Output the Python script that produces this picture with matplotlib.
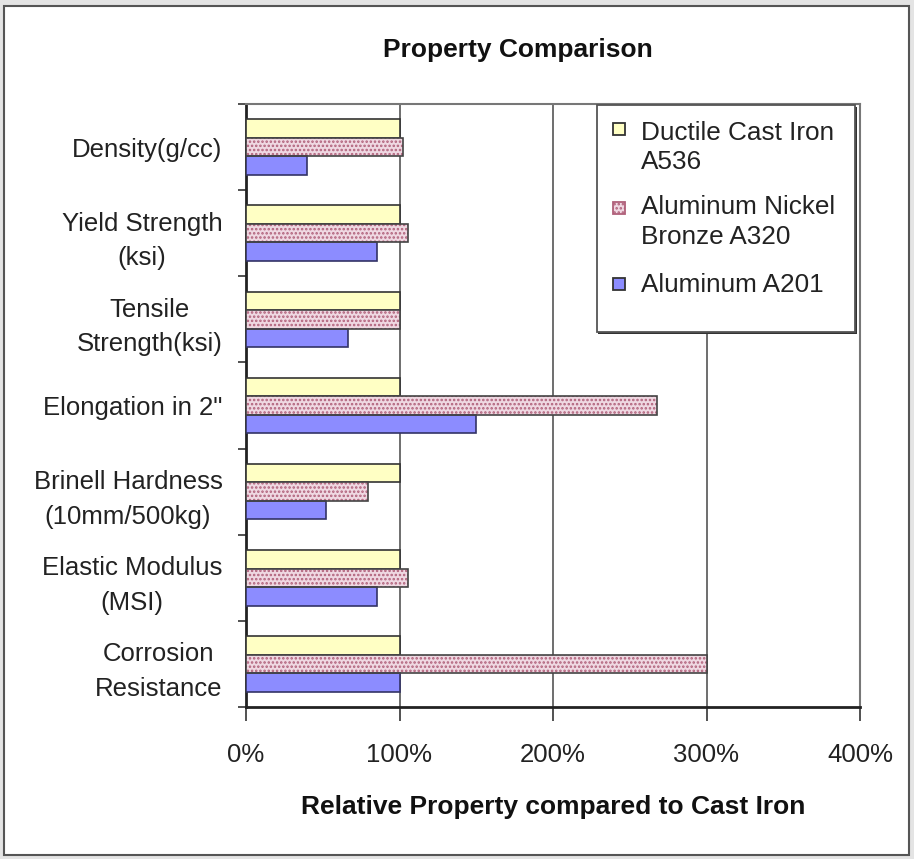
import matplotlib
matplotlib.use("Agg")
import matplotlib.pyplot as plt
import numpy as np
from matplotlib.patches import Rectangle

plt.rcParams['font.family'] = ['Liberation Sans', 'DejaVu Sans']
plt.rcParams['hatch.linewidth'] = 1.2

categories = ["Density(g/cc)", "Yield Strength\n(ksi)", "Tensile\nStrength(ksi)",
              "Elongation in 2\"", "Brinell Hardness\n(10mm/500kg)",
              "Elastic Modulus\n(MSI)", "Corrosion\nResistance"]
series_names = ["Ductile Cast Iron\nA536", "Aluminum Nickel\nBronze A320", "Aluminum A201"]
ductile = [100, 100, 100, 100, 100, 100, 100]
bronze = [102.5, 105.4, 100, 267.5, 79.3, 105.4, 300]
aluminum = [39.5, 85.4, 66.7, 150, 52.2, 85.4, 100]
xticks = [0, 100, 200, 300, 400]
xticklabels = ["0%", "100%", "200%", "300%", "400%"]

W, H = 914, 859
fig = plt.figure(figsize=(W / 100, H / 100), dpi=100)
fig.patch.set_facecolor('#e4e4e4')
fig.add_artist(Rectangle((4 / W, 4 / H), (W - 9) / W, (H - 10) / H, transform=fig.transFigure,
                         facecolor='white', edgecolor='#555555', linewidth=1.5, zorder=0))

ax = fig.add_axes([246 / W, 1 - 707 / H, (860 - 246) / W, (707 - 104) / H])
ax.set_facecolor('white')

colors = ['#ffffc4', '#efd8e2', '#8c8cff']
edges = ['#333333', '#b0607a', '#333366']

y = np.arange(len(categories))
h = 0.215
ax.barh(y - h, ductile, height=h, color=colors[0], edgecolor=edges[0], linewidth=1.2, zorder=3)
ax.barh(y, bronze, height=h, color=colors[1], edgecolor=edges[1], hatch='....', linewidth=0, zorder=3)
ax.barh(y, bronze, height=h, color='none', edgecolor='#444444', linewidth=1.2, zorder=4)
ax.barh(y + h, aluminum, height=h, color=colors[2], edgecolor=edges[2], linewidth=1.2, zorder=3)

ax.set_xlim(0, 400)
ax.set_ylim(6.5, -0.5)
ax.set_xticks(xticks)
ax.set_xticklabels(xticklabels, fontsize=18.5, color='#222222')
ax.set_yticks(y)
ax.set_yticklabels(categories, fontsize=18.5, color='#222222')
for t in ax.get_yticklabels():
    t.set_multialignment('center')
    t.set_linespacing(1.55)
ax.set_yticks(np.arange(-0.5, 7, 1), minor=True)
ax.tick_params(axis='y', which='major', length=0, pad=17)
ax.tick_params(axis='y', which='minor', length=6, width=1.2, color='#333333', direction='out')
ax.tick_params(axis='x', which='major', length=10, width=1.2, color='#333333', pad=16)

ax.xaxis.grid(True, color='#555555', linewidth=1.2, zorder=1)
ax.set_axisbelow(True)
for s in ['left', 'bottom']:
    ax.spines[s].set_color('#222222')
    ax.spines[s].set_linewidth(2)
for s in ['top', 'right']:
    ax.spines[s].set_color('#777777')
    ax.spines[s].set_linewidth(1.5)

fig.text(518 / W, 1 - 50 / H, "Property Comparison", ha='center', va='center',
         fontsize=19, fontweight='bold', color='#111111')
fig.text(553 / W, 1 - 807 / H, "Relative Property compared to Cast Iron", ha='center', va='center',
         fontsize=19, fontweight='bold', color='#111111')

# legend box (with a slight dark shadow on the right)
fig.add_artist(Rectangle((598 / W, 1 - 334 / H), (857 - 598) / W, (334 - 107) / H,
                         transform=fig.transFigure, facecolor='#333333', edgecolor='none', zorder=5))
fig.add_artist(Rectangle((597 / W, 1 - 332 / H), (855 - 597) / W, (332 - 105) / H,
                         transform=fig.transFigure, facecolor='white', edgecolor='#555555',
                         linewidth=1.3, zorder=5))
leg_text_y = [131, 206, 283]   # pixel y of first text line of each entry
leg_box_y = [129, 208, 284]
for name, c, e, ty, by, hat in zip(series_names, colors, edges, leg_text_y, leg_box_y,
                                   [None, '....', None]):
    fig.add_artist(Rectangle((613 / W, 1 - (by + 6) / H), 12 / W, 12 / H, transform=fig.transFigure,
                             facecolor=c, edgecolor=e if hat else '#333333', hatch=hat,
                             linewidth=1.3, zorder=6))
    fig.text(641 / W, 1 - (ty - 10.5) / H, name, ha='left', va='top', fontsize=18.8,
             linespacing=1.3, color='#222222', zorder=6)

fig.savefig("out.png", dpi=100, facecolor=fig.get_facecolor())
